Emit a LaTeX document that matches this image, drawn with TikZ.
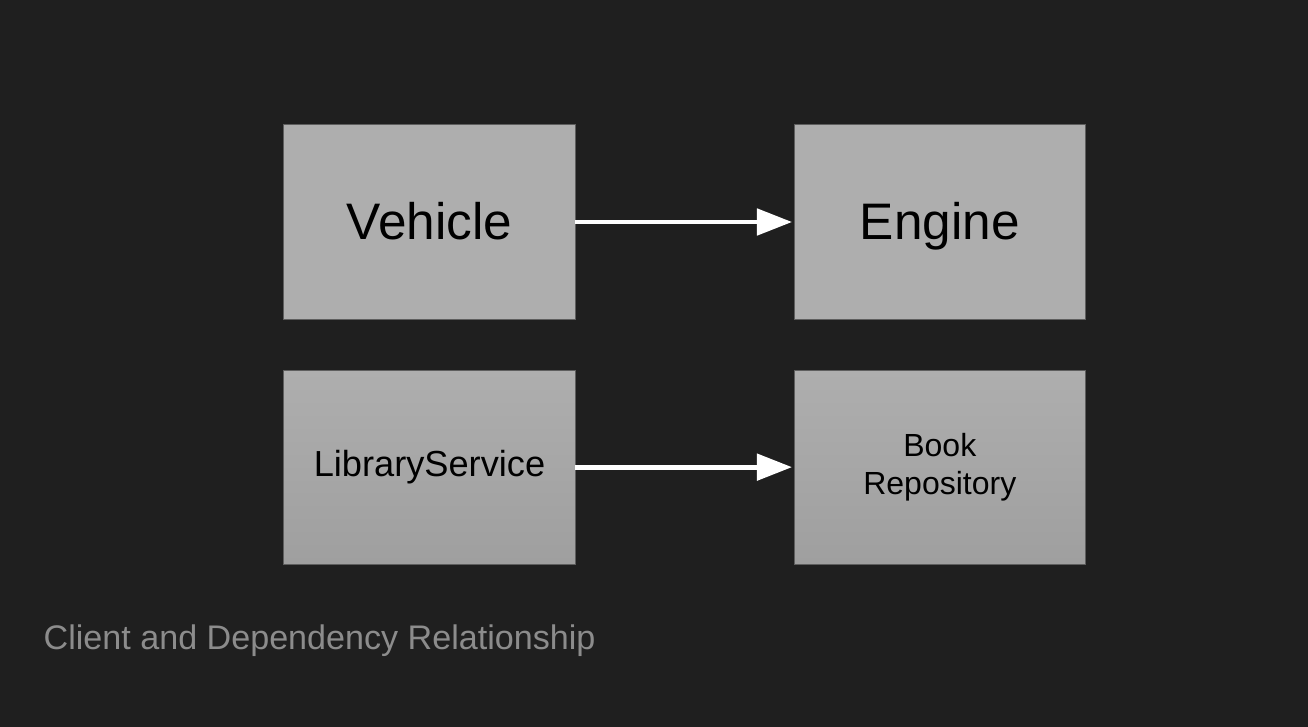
\documentclass[tikz,border=0pt]{standalone}
\usepackage{fontspec}
\setmainfont{Liberation Sans}
\usetikzlibrary{arrows.meta,positioning}

\definecolor{slidebg}{HTML}{1F1F1F}
\definecolor{boxfill}{HTML}{AEAEAE}
\definecolor{boxlow}{HTML}{9F9F9F}
\definecolor{boxline}{HTML}{5E5E5E}
\definecolor{captiongray}{HTML}{8C8C8C}

\tikzset{
    block/.style={draw=boxline, line width=0.3pt, fill=boxfill,
        minimum width=2.91cm, minimum height=1.94cm, inner sep=0pt,
        outer sep=0pt, align=center, text=black},
    bigtext/.style={font=\fontsize{14.6}{17}\selectfont,
        text height=13pt, text depth=2.8pt},
    shadedblock/.style={block, top color=boxfill, bottom color=boxlow},
    depends/.style={draw=white, line width=1.4pt,
        -{Triangle[length=10pt, width=7.4pt]}, shorten >=0.6pt}
}

\begin{document}
\begin{tikzpicture}[x=0.01cm, y=-0.01cm]
    \def\slidew{1308};
    \def\slideh{727};

% background
    \fill[slidebg] (0,0) rectangle (\slidew,\slideh);
    \useasboundingbox (0,0) rectangle (\slidew,\slideh);

% first row
    \node[block, bigtext] (vehicle) at (429.5,222) {Vehicle};
    \node[block, bigtext, right=2.19cm of vehicle] (engine) {Engine};

% second row
    \node[shadedblock, font=\fontsize{10.3}{12}\selectfont, below=0.51cm of vehicle] (service) {LibraryService};
    \node[shadedblock, font=\fontsize{9.1}{10.8}\selectfont, below=0.51cm of engine] (repo) {Book\\Repository};

% client -> dependency
    \draw[depends] (vehicle) -- (engine);
    \draw[depends] (service) -- (repo);

% caption
    \node[anchor=base west, inner sep=0pt, text=captiongray,
        font=\fontsize{9.7}{11}\selectfont] (caption) at (43,649)
        {Client and Dependency Relationship};
\end{tikzpicture}
\end{document}
